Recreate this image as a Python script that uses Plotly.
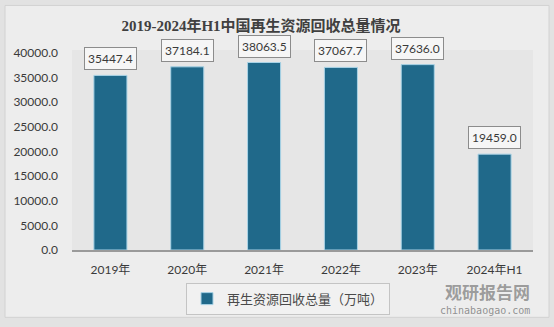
import plotly.graph_objects as go

# Data
categories = ["2019年", "2020年", "2021年", "2022年", "2023年", "2024年H1"]
values = [35447.4, 37184.1, 38063.5, 37067.7, 37636.0, 19459.0]
y_ticks = [0, 5000, 10000, 15000, 20000, 25000, 30000, 35000, 40000]
series_name = "再生资源回收总量（万吨）"
title_text = "2019-2024年H1中国再生资源回收总量情况"

W, H = 554, 327
ML, MR, MT, MB = 72, 21, 50, 75
PW, PH = W - ML - MR, H - MT - MB


def px_x(px):
    return (px - ML) / PW


def px_y(py):
    return (H - MB - py) / PH


fig = go.Figure()
fig.add_trace(go.Bar(
    x=categories, y=values, name=series_name,
    width=0.43,
    marker=dict(color="#20698a", line=dict(color="#a8d3e6", width=1)),
    showlegend=True,
))

# Value labels in boxes above each bar
annotations = []
for c, v in zip(categories, values):
    annotations.append(dict(
        x=c, y=v, xref="x", yref="y", text=f"{v:.1f}", showarrow=False,
        yanchor="bottom", yshift=5,
        font=dict(family="Lato, Noto Sans CJK SC", size=12, color="#3a3a3a"),
        bgcolor="#f6f6f6", bordercolor="#8c8c8c", borderwidth=1, borderpad=3,
    ))

# Watermark text
annotations.append(dict(
    x=px_x(532), y=px_y(294), xref="paper", yref="paper", text="<b>观研报告网</b>",
    showarrow=False, xanchor="right", yanchor="middle",
    font=dict(family="Noto Sans CJK SC", size=17, color="rgba(120,120,120,0.7)"),
))
annotations.append(dict(
    x=px_x(532), y=px_y(313), xref="paper", yref="paper", text="chinabaogao.com",
    showarrow=False, xanchor="right", yanchor="middle",
    font=dict(family="DejaVu Sans Mono, monospace", size=10, color="rgba(120,120,120,0.8)"),
))

shapes = [
    # outer panel
    dict(type="rect", xref="paper", yref="paper", layer="below",
         x0=px_x(5), x1=px_x(549), y0=px_y(320), y1=px_y(5),
         fillcolor="#ededed", line=dict(color="#d2d2d2", width=1)),
    # plot area
    dict(type="rect", xref="paper", yref="paper", layer="below",
         x0=0, x1=1, y0=0, y1=1,
         fillcolor="#e6e6e6", line=dict(width=0)),
]

fig.update_layout(
    width=W, height=H,
    margin=dict(l=ML, r=MR, t=MT, b=MB),
    paper_bgcolor="#e2e2e2",
    plot_bgcolor="rgba(0,0,0,0)",
    title=dict(text=title_text, x=px_x(261), xref="paper", y=1 - 26 / H, yanchor="middle",
               xanchor="center",
               font=dict(family="Liberation Serif, Noto Sans CJK SC", size=15, color="#404040",
                         weight="bold")),
    font=dict(family="Lato, Noto Sans CJK SC", size=12, color="#3a3a3a"),
    xaxis=dict(showgrid=False, showline=True, linecolor="#9a9a9a", linewidth=1.5,
               ticks="", ticklabelstandoff=8, tickfont=dict(size=12, color="#3a3a3a")),
    yaxis=dict(range=[0, 40000 * PH / (H - MB - 53)], tickvals=y_ticks,
               ticktext=[f"{t:.1f}" for t in y_ticks], showgrid=False, zeroline=False,
               showline=False, ticks="", ticklabelstandoff=13,
               tickfont=dict(size=12, color="#3a3a3a")),
    legend=dict(orientation="h", x=px_x(186), y=px_y(285), xanchor="left", yanchor="top",
                bgcolor="#f1f1f1", bordercolor="#c4c4c4", borderwidth=1,
                font=dict(family="Noto Sans CJK SC", size=13, color="#4a4a4a"),
                itemwidth=30),
    annotations=annotations,
    shapes=shapes,
    bargap=0.5,
)

fig.write_html("out.html")
